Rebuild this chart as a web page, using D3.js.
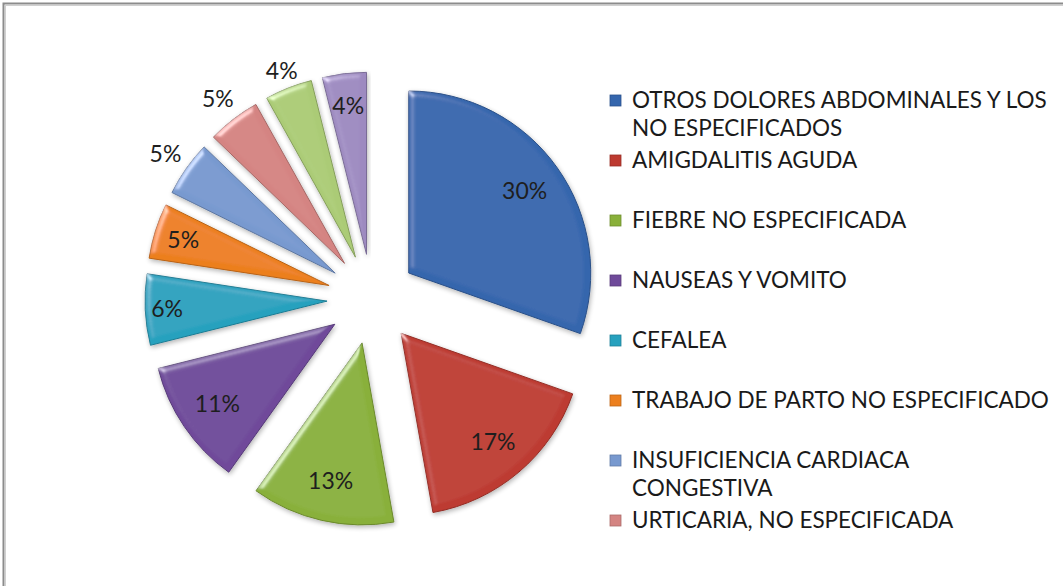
<!DOCTYPE html>
<html>
<head>
<meta charset="utf-8">
<script src="https://cdn.jsdelivr.net/npm/d3@7"></script>
<style>
  body { margin: 0; background: #fff; }
  svg { display: block; }
</style>
</head>
<body>
<svg id="vis" width="1063" height="586"></svg>
<script>
// data (share of each diagnosis, %)
var categories = [
  "OTROS DOLORES ABDOMINALES Y LOS NO ESPECIFICADOS",
  "AMIGDALITIS AGUDA",
  "FIEBRE NO ESPECIFICADA",
  "NAUSEAS Y VOMITO",
  "CEFALEA",
  "TRABAJO DE PARTO NO ESPECIFICADO",
  "INSUFICIENCIA CARDIACA CONGESTIVA",
  "URTICARIA, NO ESPECIFICADA",
  "",
  ""
];
var values = [30.4, 16.8, 12.7, 11.2, 6.3, 4.9, 4.9, 4.7, 4.2, 3.9];
// legend lines as they wrap in the picture (only 8 entries are visible)
var legendLines = [
  ["OTROS DOLORES ABDOMINALES Y LOS", "NO ESPECIFICADOS"],
  ["AMIGDALITIS AGUDA"],
  ["FIEBRE NO ESPECIFICADA"],
  ["NAUSEAS Y VOMITO"],
  ["CEFALEA"],
  ["TRABAJO DE PARTO NO ESPECIFICADO"],
  ["INSUFICIENCIA CARDIACA", "CONGESTIVA"],
  ["URTICARIA, NO ESPECIFICADA"]
];

var colors = ["#3566ad", "#bd3a30", "#89b03a", "#6f4a9a", "#27a1be", "#ec7f1e",
              "#7899cf", "#d48482", "#abcb76", "#9d8ac0"];
// where each % label sits, as a fraction of the radius (>1 = outside)
var labelRadius = [0.78, 0.78, 0.78, 0.78, 0.88, 0.84, 1.14, 1.14, 1.1, 0.82];

var svg = d3.select("#vis");
var cx = 372, cy = 299, radius = 182, explode = 45;

// soft bevel like the office chart
var defs = svg.append("defs");
var bevel = defs.append("filter").attr("id", "bevel")
  .attr("x", "-10%").attr("y", "-10%").attr("width", "120%").attr("height", "120%");
bevel.append("feGaussianBlur").attr("in", "SourceAlpha").attr("stdDeviation", 3).attr("result", "blur");
var spec = bevel.append("feSpecularLighting").attr("in", "blur")
  .attr("surfaceScale", 4).attr("specularConstant", 0.7).attr("specularExponent", 22)
  .attr("lighting-color", "#ffffff").attr("result", "spec");
spec.append("feDistantLight").attr("azimuth", 225).attr("elevation", 28);
bevel.append("feComposite").attr("in", "spec").attr("in2", "SourceAlpha").attr("operator", "in").attr("result", "specOut");
bevel.append("feComposite").attr("in", "SourceGraphic").attr("in2", "specOut")
  .attr("operator", "arithmetic").attr("k1", 0).attr("k2", 1).attr("k3", 0.65).attr("k4", 0).attr("result", "lit");
bevel.append("feGaussianBlur").attr("in", "SourceAlpha").attr("stdDeviation", 2.5).attr("result", "sh");
bevel.append("feOffset").attr("in", "sh").attr("dx", 1).attr("dy", 2).attr("result", "sho");
bevel.append("feComponentTransfer").attr("in", "sho").attr("result", "shf")
  .append("feFuncA").attr("type", "linear").attr("slope", 0.3);
var merge = bevel.append("feMerge");
merge.append("feMergeNode").attr("in", "shf");
merge.append("feMergeNode").attr("in", "lit");

// frame of the chart area (runs off the right and bottom of the shot)
svg.append("rect").attr("x", 3.5).attr("y", 3.5).attr("width", 1200).attr("height", 800)
  .attr("fill", "none").attr("stroke", "#8c8c8c").attr("stroke-width", 2);
svg.append("rect").attr("x", 5.5).attr("y", 5.5).attr("width", 1200).attr("height", 800)
  .attr("fill", "none").attr("stroke", "#d0d0d0").attr("stroke-width", 1);

var pie = d3.pie().sort(null).value(function(d){ return d; });
var arcs = pie(values);
var arc = d3.arc().innerRadius(0).outerRadius(radius);
var total = d3.sum(values);

var g = svg.append("g").attr("transform", "translate(" + cx + "," + cy + ")");

var slices = g.selectAll(".slice").data(arcs).enter().append("g")
  .attr("class", "slice")
  .attr("transform", function(d) {
    var a = (d.startAngle + d.endAngle) / 2;
    return "translate(" + (Math.sin(a) * explode) + "," + (-Math.cos(a) * explode) + ")";
  });

slices.append("path")
  .attr("d", arc)
  .attr("fill", function(d, i){ return colors[i]; })
  .attr("stroke", function(d, i){ return d3.color(colors[i]).darker(0.7); })
  .attr("stroke-width", 1)
  .attr("filter", "url(#bevel)");

slices.append("text")
  .attr("transform", function(d, i) {
    var a = (d.startAngle + d.endAngle) / 2, r = radius * labelRadius[i];
    return "translate(" + (Math.sin(a) * r) + "," + (-Math.cos(a) * r) + ")";
  })
  .attr("text-anchor", "middle")
  .attr("dy", "0.35em")
  .style("font-family", "Lato, 'Open Sans', sans-serif")
  .style("font-size", "23px")
  .attr("fill", "#1e1e1e")
  .text(function(d){ return Math.round(d.data / total * 100) + "%"; });

// legend
var ly = d3.scalePoint().domain(d3.range(legendLines.length)).range([100, 520]);
var legend = svg.append("g").selectAll(".item").data(legendLines).enter().append("g")
  .attr("class", "item")
  .attr("transform", function(d, i){ return "translate(610," + ly(i) + ")"; });

legend.append("rect")
  .attr("x", 0).attr("y", -5).attr("width", 11).attr("height", 11)
  .attr("fill", function(d, i){ return colors[i]; })
  .attr("stroke", function(d, i){ return d3.color(colors[i]).darker(0.6); })
  .attr("stroke-width", 0.8);

legend.append("text")
  .attr("x", 22)
  .style("font-family", "Lato, 'Open Sans', sans-serif")
  .style("font-size", "22.5px")
  .attr("fill", "#1a1a1a")
  .selectAll("tspan").data(function(d){ return d; }).enter().append("tspan")
  .attr("x", 22)
  .attr("y", function(d, j){ return j * 28; })
  .attr("dy", "0.36em")
  .text(function(d){ return d; });
</script>
</body>
</html>
